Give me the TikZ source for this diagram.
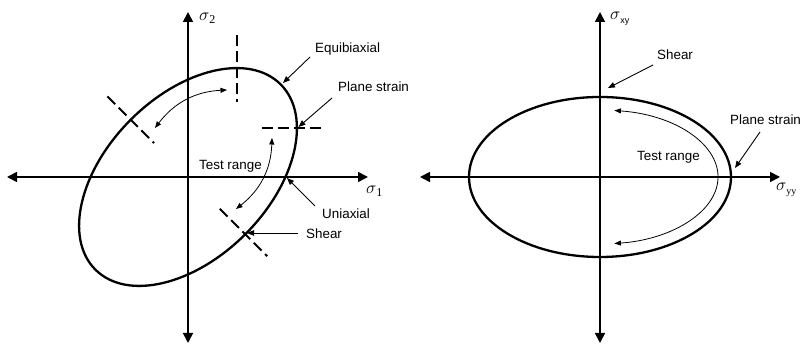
\documentclass[tikz,border=0pt]{standalone}
\usepackage{fontspec}
\setmainfont{Liberation Sans}
\newfontfamily\subserif{Liberation Serif}
\usetikzlibrary{arrows.meta, positioning, calc}

\begin{document}
\begin{tikzpicture}[x=1pt, y=1pt, font=\fontsize{13.4}{16}\selectfont,
  axisline/.style={line width=1.6pt,
    {Triangle[length=10pt,width=10pt]}-{Triangle[length=10pt,width=10pt]}},
  curve/.style={line width=2.3pt},
  marker/.style={line width=2.1pt, dash pattern=on 11pt off 5pt},
  callout/.style={line width=0.9pt, -{Triangle[length=7pt,width=5.5pt]}},
  rangearc/.style={line width=0.8pt,
    {Triangle[length=6.5pt,width=5pt]}-{Triangle[length=6.5pt,width=5pt]}},
  lbl/.style={inner sep=0pt, anchor=base west}]
  \useasboundingbox (0,0) rectangle (800,344);

  % principal stress plane
  \coordinate (o1) at (188,167);
  \coordinate (p-west) at (7,167);   \coordinate (p-east) at (368,167);
  \coordinate (p-south) at (188,1);  \coordinate (p-north) at (188,332);
  \draw[axisline] (p-west) -- (p-east);
  \draw[axisline] (p-south) -- (p-north);
  \draw[curve, rotate around={45:(o1)}] (o1) ellipse[x radius=131, y radius=81];

  \node[lbl] (sig2) at (199,323)
    {\fontsize{19}{19}\selectfont$\sigma$\raisebox{-3pt}{\subserif\fontsize{12}{12}\selectfont 2}};
  \node[lbl] (sig1) at (366,150)
    {\fontsize{19}{19}\selectfont$\sigma$\raisebox{-3pt}{\subserif\fontsize{12}{12}\selectfont 1}};

  % dashed markers
  \draw[marker] (236.7,309) -- (236.7,242);
  \draw[marker] (262,215.7) -- (323,215.7);
  \draw[marker] ($(o1)+(135:114)$) -- ($(o1)+(135:48)$);
  \draw[marker] ($(o1)+(-45:45)$) -- ($(o1)+(-45:112)$);

  % labels and callouts
  \node[lbl] (equi) at (315,291.5) {Equibiaxial};
  \node[lbl] (pstrain) at (338,252) {Plane strain};
  \node[lbl] (uni) at (322,125) {Uniaxial};
  \node[lbl] (shear) at (306,105) {Shear};
  \node[lbl] (range) at (199,174) {Test range};

  \coordinate (equi-from) at (310,287);    \coordinate (equi-to) at (283,261);
  \coordinate (ps-from) at (332,246);      \coordinate (ps-to) at (298.5,217);
  \coordinate (uni-from) at (315,138);     \coordinate (uni-to) at (287,166);
  \coordinate (sh-from) at (298,111);      \coordinate (sh-to) at (247,111);
  \draw[callout] (equi-from) -- (equi-to);
  \draw[callout] (ps-from) -- (ps-to);
  \draw[callout] (uni-from) -- (uni-to);
  \draw[callout] (sh-from) -- (sh-to);

  \coordinate (ra-a) at (155,216);  \coordinate (ra-b) at (227,254);
  \coordinate (rb-a) at (272,206);  \coordinate (rb-b) at (236,135);
  \draw[rangearc] (ra-a) to[bend left=25] (ra-b);
  \draw[rangearc] (rb-a) to[bend left=25] (rb-b);

  % shear plane
  \coordinate (o2) at (600,167);
  \coordinate (q-west) at (420,167);  \coordinate (q-east) at (780,167);
  \coordinate (q-south) at (600,1);   \coordinate (q-north) at (600,332);
  \draw[axisline] (q-west) -- (q-east);
  \draw[axisline] (q-south) -- (q-north);
  \draw[curve] (o2) ellipse[x radius=131, y radius=80];

  \node[lbl] (sigxy) at (610,324)
    {\fontsize{19}{19}\selectfont$\sigma$\raisebox{-4pt}{\fontsize{9}{9}\selectfont xy}};
  \node[lbl] (sigyy) at (776,153)
    {\fontsize{19}{19}\selectfont$\sigma$\raisebox{-4pt}{\subserif\fontsize{10}{10}\selectfont yy}};

  \node[lbl] (shear2) at (657,284) {Shear};
  \node[lbl] (pstrain2) at (730,219) {Plane strain};
  \node[lbl] (range2) at (637,183) {Test range};

  \coordinate (sh2-from) at (653,279);  \coordinate (sh2-to) at (608,256);
  \coordinate (ps2-from) at (760,212);  \coordinate (ps2-to) at (735,176);
  \draw[callout] (sh2-from) -- (sh2-to);
  \draw[callout] (ps2-from) -- (ps2-to);

  \coordinate (arc-top) at (614.4,233.5);
  \draw[rangearc] (arc-top) arc[start angle=83, end angle=-83, x radius=118, y radius=67];
\end{tikzpicture}
\end{document}
